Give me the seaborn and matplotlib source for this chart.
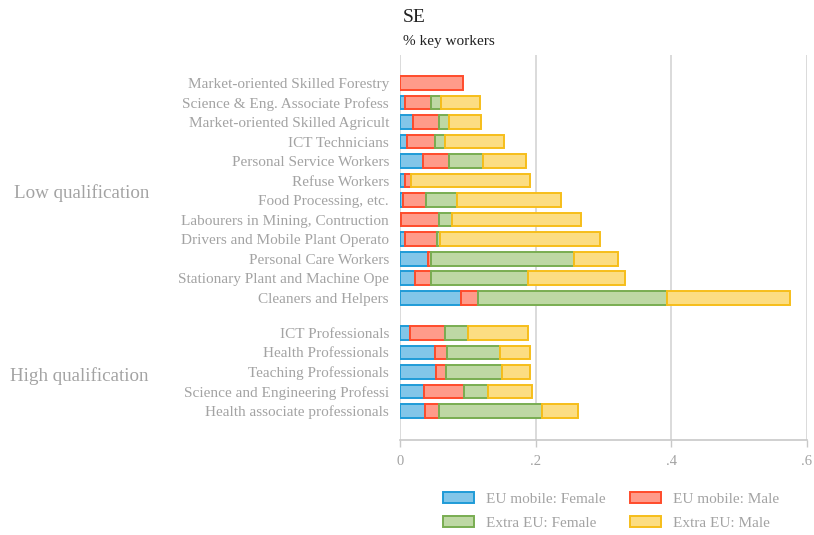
import matplotlib
matplotlib.use("Agg")
import matplotlib.pyplot as plt
import matplotlib.transforms as mtransforms
from matplotlib.patches import Patch
import numpy as np
import pandas as pd
import seaborn as sns

# Occupations, top to bottom
low_occupations = [
    "Market-oriented Skilled Forestry",
    "Science & Eng. Associate Profess",
    "Market-oriented Skilled Agricult",
    "ICT Technicians",
    "Personal Service Workers",
    "Refuse Workers",
    "Food Processing, etc.",
    "Labourers in Mining, Contruction",
    "Drivers and Mobile Plant Operato",
    "Personal Care Workers",
    "Stationary Plant and Machine Ope",
    "Cleaners and Helpers",
]
high_occupations = [
    "ICT Professionals",
    "Health Professionals",
    "Teaching Professionals",
    "Science and Engineering Professi",
    "Health associate professionals",
]

# Share of key workers by origin and sex (low block, then high block)
eu_female = [0.000, 0.007, 0.019, 0.010, 0.034, 0.007, 0.005, 0.001, 0.008, 0.041, 0.022, 0.090,
             0.015, 0.051, 0.053, 0.035, 0.037]
eu_male = [0.093, 0.038, 0.039, 0.042, 0.038, 0.009, 0.033, 0.056, 0.047, 0.005, 0.024, 0.025,
           0.052, 0.019, 0.015, 0.060, 0.020]
extra_female = [0.000, 0.016, 0.014, 0.015, 0.051, 0.000, 0.046, 0.019, 0.004, 0.210, 0.142, 0.278,
                0.033, 0.077, 0.082, 0.034, 0.152]
extra_male = [0.000, 0.057, 0.048, 0.087, 0.063, 0.176, 0.154, 0.191, 0.236, 0.066, 0.144, 0.182,
              0.089, 0.044, 0.041, 0.065, 0.054]

series_names = ["EU mobile: Female", "EU mobile: Male", "Extra EU: Female", "Extra EU: Male"]
fills = ["#82c6e9", "#ff9b8a", "#bed8a4", "#fcdd82"]
edges = ["#1f9bd7", "#ff4b2b", "#79ad51", "#f6be1a"]

labels = low_occupations + high_occupations
gap = 0.8
ypos = np.array([float(i) for i in range(len(low_occupations))] +
                [len(low_occupations) + gap + i for i in range(len(high_occupations))])

sns.set_theme(style="white")
plt.rcParams["font.family"] = ["Liberation Serif", "DejaVu Serif"]
grey = "#a3a3a3"

fig = plt.figure(figsize=(8.14, 5.35), dpi=100)
ax = fig.add_axes([400 / 814, 1 - 440 / 535, 407 / 814, 385 / 535])

values = [eu_female, eu_male, extra_female, extra_male]
left = np.zeros(len(labels))
for name, vals, fc, ec in zip(series_names, values, fills, edges):
    vals = np.asarray(vals)
    df = pd.DataFrame({"share": vals, "pos": ypos})
    n_before = len(ax.patches)
    sns.barplot(data=df, x="share", y="pos", orient="h", native_scale=True,
                width=0.7, color=fc, edgecolor=ec, linewidth=1.4,
                errorbar=None, saturation=1, ax=ax)
    # stack this series after the previous ones
    for p in ax.patches[n_before:]:
        yc = p.get_y() + p.get_height() / 2
        idx = int(np.argmin(np.abs(ypos - yc)))
        p.set_x(left[idx])
        p.set_facecolor(fc)
        if p.get_width() <= 0:
            p.set_visible(False)
    left = left + vals

ax.set_xlim(0, 0.6)
ax.set_ylim(ypos[-1] + 1.49, -1.436)
ax.set_xticks([0, 0.2, 0.4, 0.6])
ax.set_xticklabels(["0", ".2", ".4", ".6"])
ax.set_yticks(ypos)
ax.set_yticklabels(labels)
ax.set_xlabel("")
ax.set_ylabel("")
ax.grid(axis="x", color="#d4d4d4", linewidth=1.2)
ax.grid(axis="y", visible=False)
ax.set_axisbelow(True)
for s in ["top", "right", "left"]:
    ax.spines[s].set_visible(False)
ax.spines["bottom"].set_color("#c8c8c8")
ax.spines["bottom"].set_linewidth(1.2)
ax.tick_params(axis="x", colors=grey, labelsize=10.5, length=5, width=1.0,
               direction="out", pad=6, bottom=True, color="#c8c8c8")
ax.tick_params(axis="y", colors=grey, labelsize=11, length=0, pad=8)

# group labels
trans = mtransforms.blended_transform_factory(fig.transFigure, ax.transData)
ax.text(14 / 814, 5.65, "Low qualification", transform=trans, ha="left", va="center",
        fontsize=13.7, color=grey)
ax.text(10 / 814, ypos[14] + 0.2, "High qualification", transform=trans, ha="left", va="center",
        fontsize=13.7, color=grey)

fig.text(403 / 814, 1 - 17 / 535, "SE", fontsize=14, color="#222222", ha="left", va="center")
fig.text(403 / 814, 1 - 42 / 535, "% key workers", fontsize=11, color="#222222",
         ha="left", va="center")

handles = [Patch(facecolor=fills[i], edgecolor=edges[i], linewidth=1.4) for i in [0, 2, 1, 3]]
names = [series_names[i] for i in [0, 2, 1, 3]]
leg = fig.legend(handles, names, ncol=2, loc="center", bbox_to_anchor=(611 / 814, 1 - 511 / 535),
                 frameon=False, fontsize=11, handlelength=2.0, handleheight=0.75,
                 handletextpad=0.8, columnspacing=1.6, labelspacing=0.65)
for t in leg.get_texts():
    t.set_color(grey)

fig.savefig("out.png", dpi=100)
